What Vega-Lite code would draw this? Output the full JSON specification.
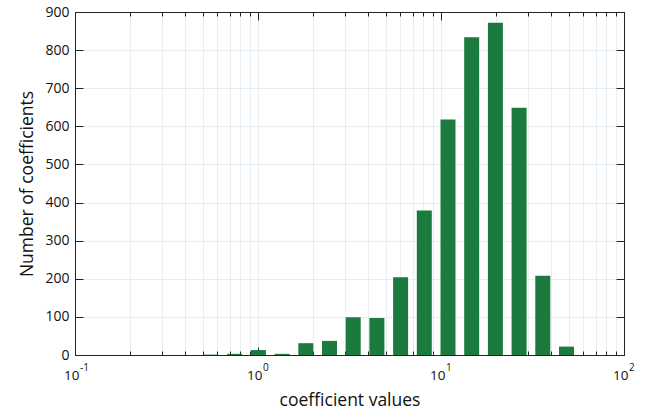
{
  "$schema": "https://vega.github.io/schema/vega-lite/v6.json",
  "width": 549,
  "height": 343,
  "autosize": {"type": "none"},
  "padding": {"left": 75, "top": 12, "right": 21, "bottom": 59},
  "background": "white",
  "config": {
    "view": {"stroke": null},
    "axis": {"labelFont": "Open Sans", "titleFont": "Open Sans", "labelColor": "#111", "titleColor": "#111", "domainColor": "#222", "tickColor": "#222", "labelFontSize": 14, "titleFontSize": 17.5, "titleFontWeight": "normal"}
  },
  "data": {"values": [
    {"x0": 0.504, "x1": 0.608, "count": 1},
    {"x0": 0.679, "x1": 0.820, "count": 3},
    {"x0": 0.915, "x1": 1.105, "count": 13},
    {"x0": 1.232, "x1": 1.488, "count": 3},
    {"x0": 1.661, "x1": 2.005, "count": 31},
    {"x0": 2.237, "x1": 2.702, "count": 37},
    {"x0": 3.015, "x1": 3.641, "count": 99},
    {"x0": 4.062, "x1": 4.906, "count": 97},
    {"x0": 5.474, "x1": 6.610, "count": 204},
    {"x0": 7.376, "x1": 8.906, "count": 379},
    {"x0": 9.938, "x1": 12.00, "count": 618},
    {"x0": 13.39, "x1": 16.17, "count": 834},
    {"x0": 18.04, "x1": 21.79, "count": 872},
    {"x0": 24.31, "x1": 29.36, "count": 649},
    {"x0": 32.75, "x1": 39.56, "count": 208},
    {"x0": 44.14, "x1": 53.31, "count": 22}
  ]},
  "resolve": {"axis": {"x": "independent", "y": "independent"}},
  "layer": [
    {
      "mark": {"type": "bar", "opacity": 0},
      "encoding": {
        "x": {"field": "x0", "type": "quantitative", "scale": {"type": "log", "domain": [0.1, 100], "nice": false},
          "axis": {"orient": "bottom", "values": [0.2,0.3,0.4,0.5,0.6,0.7,0.8,0.9,1,2,3,4,5,6,7,8,9,10,20,30,40,50,60,70,80,90], "labels": false, "ticks": false, "domain": false, "grid": true, "gridColor": "#e2ebf1", "gridWidth": 0.8, "title": null}},
        "x2": {"field": "x1"},
        "y": {"field": "count", "type": "quantitative", "scale": {"domain": [0, 900], "nice": false},
          "axis": {"orient": "left", "values": [100,200,300,400,500,600,700,800], "labels": false, "ticks": false, "domain": false, "grid": true, "gridColor": "#e2ebf1", "gridWidth": 0.8, "title": null}},
        "y2": {"datum": 0}
      }
    },
    {
      "mark": {"type": "bar", "color": "#1b7a3e"},
      "encoding": {
        "x": {"field": "x0", "type": "quantitative",
          "axis": {"orient": "bottom", "values": [0.1, 1, 10, 100], "labelExpr": "'10'", "labelFontSize": 13.5, "labelAlign": "right", "labelOffset": 4, "tickSize": -8, "labelPadding": 21, "grid": false, "title": "coefficient values", "titlePadding": 10, "labelFlush": false}},
        "x2": {"field": "x1"},
        "y": {"field": "count", "type": "quantitative",
          "axis": {"orient": "left", "values": [0,100,200,300,400,500,600,700,800,900], "tickSize": -8, "labelPadding": 14, "grid": false, "title": "Number of coefficients", "titlePadding": 8}},
        "y2": {"datum": 0}
      }
    },
    {
      "mark": {"type": "bar", "opacity": 0},
      "encoding": {
        "x": {"field": "x0", "type": "quantitative",
          "axis": {"orient": "bottom", "values": [0.1, 1, 10, 100], "labelExpr": "datum.value < 0.5 ? '-1' : datum.value < 5 ? '0' : datum.value < 50 ? '1' : '2'", "labelFontSize": 10, "labelOffset": 4.5, "labelAlign": "left", "labelPadding": 7, "ticks": false, "domain": false, "grid": false, "title": null, "labelFlush": false, "labelOverlap": false}},
        "x2": {"field": "x1"},
        "y": {"field": "count", "type": "quantitative", "axis": null},
        "y2": {"datum": 0}
      }
    },
    {
      "mark": {"type": "bar", "opacity": 0},
      "encoding": {
        "x": {"field": "x0", "type": "quantitative",
          "axis": {"orient": "top", "values": [0.1, 1, 10, 100], "labels": false, "tickSize": -8, "grid": false, "title": null}},
        "x2": {"field": "x1"},
        "y": {"field": "count", "type": "quantitative",
          "axis": {"orient": "right", "values": [0,100,200,300,400,500,600,700,800,900], "labels": false, "tickSize": -8, "grid": false, "title": null}},
        "y2": {"datum": 0}
      }
    },
    {
      "mark": {"type": "bar", "opacity": 0},
      "encoding": {
        "x": {"field": "x0", "type": "quantitative",
          "axis": {"orient": "bottom", "values": [0.2,0.3,0.4,0.5,0.6,0.7,0.8,0.9,2,3,4,5,6,7,8,9,20,30,40,50,60,70,80,90], "labels": false, "domain": false, "tickSize": -4, "grid": false, "title": null}},
        "x2": {"field": "x1"},
        "y": {"field": "count", "type": "quantitative", "axis": null},
        "y2": {"datum": 0}
      }
    },
    {
      "mark": {"type": "bar", "opacity": 0},
      "encoding": {
        "x": {"field": "x0", "type": "quantitative",
          "axis": {"orient": "top", "values": [0.2,0.3,0.4,0.5,0.6,0.7,0.8,0.9,2,3,4,5,6,7,8,9,20,30,40,50,60,70,80,90], "labels": false, "domain": false, "tickSize": -4, "grid": false, "title": null}},
        "x2": {"field": "x1"},
        "y": {"field": "count", "type": "quantitative", "axis": null},
        "y2": {"datum": 0}
      }
    }
  ]
}
